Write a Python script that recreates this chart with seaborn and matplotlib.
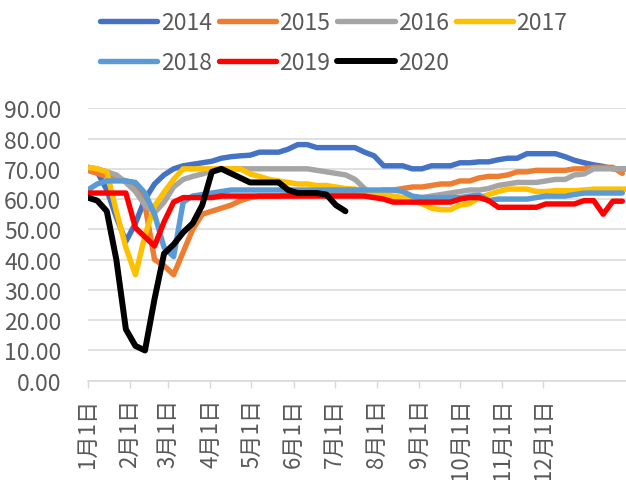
import numpy as np
import matplotlib
matplotlib.use('Agg')
import matplotlib.pyplot as plt
import seaborn as sns

# weekly readings, one list per year (week 0 = 1月1日)
years = ['2014', '2015', '2016', '2017', '2018', '2019', '2020']
colors = ['#4472C4', '#ED7D31', '#A5A5A5', '#FFC000', '#5B9BD5', '#FF0000', '#000000']

v2014 = [70.5, 69, 63, 54, 46, 52, 60, 65, 68, 70, 71, 71.5, 72, 72.5, 73.5, 74, 74.3, 74.5,
         75.5, 75.5, 75.5, 76.5, 78, 78, 77, 77, 77, 77, 77, 75.5, 74.3, 71, 71, 71, 70, 70,
         71, 71, 71, 72, 72, 72.3, 72.3, 73, 73.5, 73.5, 75, 75, 75, 75, 74, 72.8, 72, 71.3,
         70.8, 70, 70, 70]
v2015 = [69.5, 68.5, 67.5, 67, 66, 65, 58, 40, 38, 35, 42.5, 50, 55, 56, 57, 58, 59.5, 60.5,
         61, 61, 61, 61.5, 62, 62, 62, 62, 62, 62, 62, 62, 62.5, 63, 63, 63.5, 64, 64, 64.5,
         65, 65, 66, 66, 67, 67.5, 67.5, 68, 69, 69, 69.5, 69.5, 69.5, 69.5, 70, 70, 70.5,
         70.5, 70.5, 68.5]
v2016 = [70.5, 70, 69, 68, 65.5, 62.5, 58, 55.5, 59, 64, 66.5, 67.5, 68.3, 69.3, 70, 70, 70,
         70, 70, 70, 70, 70, 70, 70, 69.5, 69, 68.5, 68, 66.5, 63.5, 61, 60.5, 60.5, 60.5,
         60.5, 60.5, 61, 61.5, 62, 62.5, 63, 63, 63.5, 64.5, 65, 65.5, 65.5, 65.5, 66, 66.5,
         66.5, 68, 68.3, 70, 70, 70, 70, 70]
v2017 = [70.5, 70, 69, 56, 44, 35, 48, 57.7, 62.3, 66.5, 70, 70, 70, 70, 70, 70, 70, 68.3,
         67.5, 66.5, 66, 65.5, 65, 65, 64.5, 64.5, 64, 63.5, 63.3, 62.5, 62, 61.5, 61, 60.5,
         59.5, 58.5, 57, 56.5, 56.5, 58, 58.5, 60.5, 61.5, 62.5, 63.3, 63.3, 63.3, 62.5, 62.5,
         62.8, 62.8, 62.8, 63, 63.3, 63.3, 63.3, 63.3, 63.3]
v2018 = [63, 65, 66, 66, 66, 65.5, 62, 55, 44, 41, 59, 61, 61.5, 62, 62.5, 63, 63, 63, 63, 63,
         63, 63, 63, 63, 63, 63, 63, 63, 63, 63, 63, 63, 63, 62.5, 61, 60.5, 60.5, 60.5, 60.5,
         60.5, 61, 61.3, 59.5, 60, 60, 60, 60, 60.5, 61, 61, 61, 61.5, 62, 62, 62, 62, 62]
v2019 = [62, 62, 62, 62, 62, 50.5, 47.5, 44.5, 52.5, 59, 60.5, 60.5, 60.5, 60.5, 61, 61, 61,
         61, 61, 61, 61, 61, 61, 61, 61, 61, 61, 61, 61, 61, 60.5, 60, 59, 59, 59, 59, 59, 59,
         59, 60, 60.5, 60.5, 59.5, 57.3, 57.3, 57.3, 57.3, 57.3, 58.4, 58.4, 58.4, 58.4, 59.5,
         59.5, 55, 59.3, 59.3]
v2020 = [60.5, 59.5, 56, 40, 17, 11.5, 10, 27, 42, 45, 49, 52, 58, 69, 70, 68.5, 67, 65.5,
         65.5, 65.5, 65.5, 63, 62, 62, 62, 61.5, 58, 56]

month_days = [0, 31, 59, 90, 120, 151, 181, 212, 243, 273, 304, 334]
month_labels = ['1月1日', '2月1日', '3月1日', '4月1日', '5月1日', '6月1日',
                '7月1日', '8月1日', '9月1日', '10月1日', '11月1日', '12月1日']
y_ticks = [0, 10, 20, 30, 40, 50, 60, 70, 80, 90]

sns.set_style('white')
plt.rcParams['font.family'] = ['Noto Sans CJK SC', 'DejaVu Sans']
plt.rcParams['font.weight'] = 'light'
text_color = '#595959'
grid_color = '#D9D9D9'

fig = plt.figure(figsize=(6.26, 4.81), dpi=100)
ax = fig.add_axes([0.1401, 0.2064, 0.8599, 0.5664])

series = [v2014, v2015, v2016, v2017, v2018, v2019, v2020]
for year, vals, color in zip(years, series, colors):
    days = np.arange(len(vals)) * 7
    lw = 4.3 if year == '2020' else 3.9
    sns.lineplot(x=days, y=vals, color=color, linewidth=lw, label=year, ax=ax,
                 solid_capstyle='round', solid_joinstyle='round')

ax.set_xlim(0, 394.7)
ax.set_ylim(0, 90)
ax.set_xticks(month_days)
ax.set_xticklabels(month_labels)
ax.set_yticks(y_ticks)
ax.set_yticklabels([f'{t:.2f}' for t in y_ticks])
ax.set_xlabel('')
ax.set_ylabel('')

ax.yaxis.grid(True, color=grid_color, linewidth=1.1)
ax.xaxis.grid(False)
ax.set_axisbelow(True)
for side in ['left', 'top', 'right']:
    ax.spines[side].set_visible(False)
ax.spines['bottom'].set_color(grid_color)
ax.spines['bottom'].set_linewidth(1.1)

ax.tick_params(axis='y', length=0, pad=19, labelsize=16.5, labelcolor=text_color)
ax.tick_params(axis='x', bottom=True, length=5, width=1, color=grid_color, direction='out',
               pad=7, labelsize=16, labelcolor=text_color, labelrotation=90)

handles, labels = ax.get_legend_handles_labels()
if ax.get_legend() is not None:
    ax.get_legend().remove()
order = [0, 4, 1, 5, 2, 6, 3]
fig.legend([handles[i] for i in order], [labels[i] for i in order], ncol=4,
           loc='upper left', bbox_to_anchor=(100 / 626, 1 - 12 / 481), frameon=False,
           fontsize=16.5, labelcolor=text_color, handlelength=2.5, handletextpad=0.15,
           columnspacing=0.3, labelspacing=0.75, borderpad=0, borderaxespad=0)

fig.savefig('out.png', dpi=100)
